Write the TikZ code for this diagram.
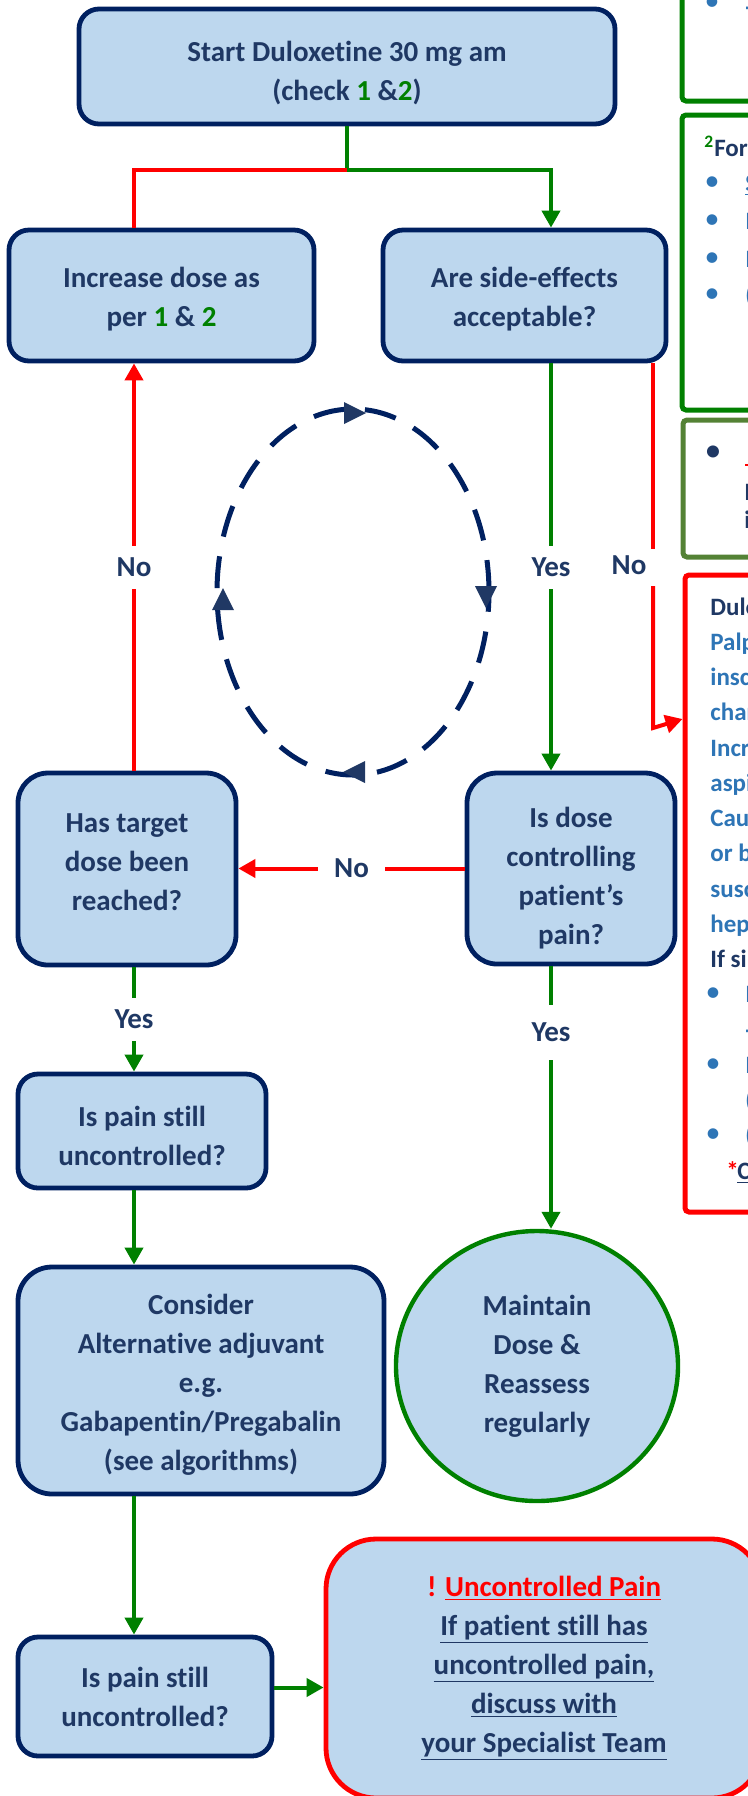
\documentclass[tikz,border=0pt]{standalone}
\usepackage{fontspec}
\setmainfont{Carlito}[Ligatures=NoCommon]
\usetikzlibrary{arrows.meta,shapes.geometric}

\definecolor{navy}{HTML}{002060}
\definecolor{navytext}{HTML}{1F3864}
\definecolor{boxfill}{HTML}{BDD7EE}
\definecolor{flowgreen}{HTML}{008000}
\definecolor{flowred}{HTML}{FF0000}
\definecolor{leafgreen}{HTML}{548235}
\definecolor{textblue}{HTML}{2E75B6}
\definecolor{tribl}{HTML}{203864}

\newcommand{\flowfont}{\fontsize{14.5}{19.5}\selectfont\bfseries}
\newcommand{\sidefont}{\fontsize{12.5}{14}\selectfont\bfseries}
\newcommand{\lift}[1]{\rule{0pt}{#1}}
\newcommand{\sink}[1]{\rule[-#1]{0pt}{#1}}

\begin{document}
\begin{tikzpicture}[x=0.5pt,y=-0.5pt,>={Triangle[length=8.5pt,width=9pt]},
		flowbox/.style={draw=navy,line width=2.4pt,fill=boxfill,rounded corners=10pt,align=center,text=navytext,font=\flowfont,inner sep=0pt},
		infobox/.style={line width=2.5pt,rounded corners=2pt,inner sep=0pt},
		gline/.style={flowgreen,line width=2pt},
		rline/.style={flowred,line width=2pt},
		lbl/.style={fill=white,text=navytext,font=\flowfont,inner xsep=3pt,inner ysep=6pt},
		sidetxt/.style={font=\sidefont,anchor=base west,inner sep=0pt},
		bul/.style={font=\fontsize{15}{16}\selectfont,anchor=base,inner sep=0pt}]
		\useasboundingbox (0,0) rectangle (748,1796);
		\clip (0,0) rectangle (748,1796);

		% Riquadri
		\node[flowbox,minimum width=268pt,minimum height=57.5pt] (start) at (347,66.5) {\lift{17pt}Start Duloxetine 30 mg am\\(check \textcolor{flowgreen}{1} \&\textcolor{flowgreen}{2})};
		\node[flowbox,minimum width=152.5pt,minimum height=65.5pt] (incr) at (161.5,295.5) {\lift{13.5pt}Increase dose as\\per \textcolor{flowgreen}{1} \& \textcolor{flowgreen}{2}};
		\node[flowbox,minimum width=141.5pt,minimum height=65.5pt] (side) at (524.5,295.5) {\lift{13.5pt}Are side-effects\\acceptable?};
		\node[flowbox,rounded corners=15pt,minimum width=109pt,minimum height=96pt] (target) at (127,869) {Has target\\dose been\\reached?\sink{7pt}};
		\node[flowbox,rounded corners=15pt,minimum width=104pt,minimum height=95.5pt] (dose) at (571,868.5) {\lift{20pt}Is dose\\controlling\\patient’s\\pain?};
		\node[flowbox,minimum width=124pt,minimum height=57pt] (still1) at (142,1131) {\lift{15.5pt}Is pain still\\uncontrolled?};
		\node[flowbox,rounded corners=17pt,minimum width=183pt,minimum height=113.5pt] (consider) at (201,1380.5) {\lift{14.5pt}Consider\\Alternative adjuvant\\e.g.\\Gabapentin/Pregabalin\\(see algorithms)};
		\node[flowbox,ellipse,sharp corners,draw=flowgreen,line width=2.2pt,minimum width=141pt,minimum height=135pt] (maintain) at (537,1366) {Maintain\\Dose \&\\Reassess\\regularly};
		\node[flowbox,minimum width=127pt,minimum height=59.5pt] (still2) at (145,1696.5) {Is pain still\\uncontrolled?};
		\node[flowbox,draw=flowred,rounded corners=25pt,minimum width=218pt,minimum height=129.5pt] (warn) at (544,1668.5) {\textcolor{flowred}{! \underline{Uncontrolled Pain}}\\\underline{If patient still has}\\\underline{uncontrolled pain,}\\\underline{discuss with}\\\underline{your Specialist Team}};

		% Riquadri a destra
		\node[infobox,draw=flowgreen,minimum width=59pt,minimum height=150.5pt] (forma) at (741,-49.5) {};
		\node[infobox,draw=flowgreen,minimum width=59pt,minimum height=147.5pt] (formb) at (741,262.5) {};
		\node[infobox,draw=leafgreen,minimum width=58.5pt,minimum height=68.5pt] (note) at (741.5,488.5) {};
		\node[infobox,draw=flowred,minimum width=57.5pt,minimum height=318.5pt] (cautions) at (742.5,893.5) {};

		% Testi a destra
		\node[bul,text=textblue] (fa0) at (712,10) {•};
		\node[sidetxt,text=textblue] (fa1) at (745,15) {-};
		\node[sidetxt,text=navytext] (fortitle) at (704,156) {\textcolor{flowgreen}{\textsuperscript{2}}For};
		\foreach \y/\txt [count=\i] in {183/\underline{S},221/I,259/I,295/(}{
			\node[bul,text=textblue] (fb\i) at (712,\y+7) {•};
			\node[sidetxt,text=textblue] (fbt\i) at (745,\y+8) {\txt};
		}
		\node[bul,text=navytext,font=\fontsize{17}{18}\selectfont] (nb) at (713,461) {•};
		\draw[flowred,line width=1pt] (745,465) -- (752,465);
		\node[sidetxt,text=navytext] (nt1) at (744,500) {I};
		\node[sidetxt,text=navytext] (nt2) at (744,528) {i};
		\foreach \col/\txt [count=\i from 0] in {navytext/Dulo,textblue/Palp,textblue/insc,textblue/char,textblue/Incr,textblue/aspi,textblue/Cau,textblue/or b,textblue/susc,textblue/hep,navytext/If si}
			\node[sidetxt,text=\col] (cau\i) at (710,615+35.25*\i) {\txt};
		\foreach \i/\txt in {11/I,12/-,13/I,14/(,15/(}
			\node[sidetxt,text=textblue] (cf\i) at (745,615+35.25*\i) {\txt};
		\foreach \i in {11,13,15}
			\node[bul,text=textblue] (cb\i) at (713,614+35.25*\i) {•};
		\node[sidetxt,text=flowred] (star) at (726,1179) {*};
		\node[sidetxt,text=navytext] (check) at (737,1179) {\underline{C\hspace{4pt}}};

		% Ciclo tratteggiato
		\draw[navy,line width=2.5pt,dash pattern=on 16pt off 10pt] (353,592) ellipse [x radius=68pt,y radius=91.5pt];
		\foreach \px/\py/\rot in {355/413/0,486/597/-90,354/772/180,223/599/90}
			\fill[tribl,shift={(\px,\py)},rotate=\rot] (5.5pt,0) -- (-5.5pt,5.5pt) -- (-5.5pt,-5.5pt) -- cycle;

		% Frecce
		\coordinate (split) at (347,170);
		\coordinate (colL) at (134,0);
		\coordinate (colR) at (551,0);
		\coordinate (colN) at (653,0);
		\coordinate (gapA) at (653,549);
		\coordinate (gapB) at (653,586);
		\coordinate (bendR) at (653,728);
		\coordinate (tipR) at (0,719);
		\draw[gline] (start.south) -- (split);
		\draw[rline] (split) -- (split -| colL) -- (incr.north -| colL);
		\draw[gline,->] (split) -- (split -| colR) -- (side.north -| colR);
		\draw[rline,->] (target.north -| colL) -- node[lbl] {No} (incr.south -| colL);
		\draw[gline,->] (side.south -| colR) -- node[lbl] {Yes} (dose.north -| colR);
		\draw[rline] (side.south -| colN) -- (gapA);
		\draw[rline,->] (gapB) -- (bendR) -- (cautions.west |- tipR);
		\node[text=navytext,font=\flowfont] (nor) at (629,565) {No};
		\draw[rline,->] (dose.west) -- node[lbl,inner xsep=8pt] {No} (dose.west -| target.east);
		\draw[gline,->] (target.south -| colL) -- node[lbl] {Yes} (still1.north -| colL);
		\draw[gline,->] (dose.south -| colR) -- node[lbl,pos=0.25,inner ysep=9pt] {Yes} (maintain.north -| colR);
		\draw[gline,->] (still1.south -| colL) -- (consider.north -| colL);
		\draw[gline,->] (consider.south -| colL) -- (still2.north -| colL);
		\draw[gline,->] ([yshift=4.5pt]still2.east) -- ([yshift=4.5pt]still2.east -| warn.west);
	\end{tikzpicture}
\end{document}
